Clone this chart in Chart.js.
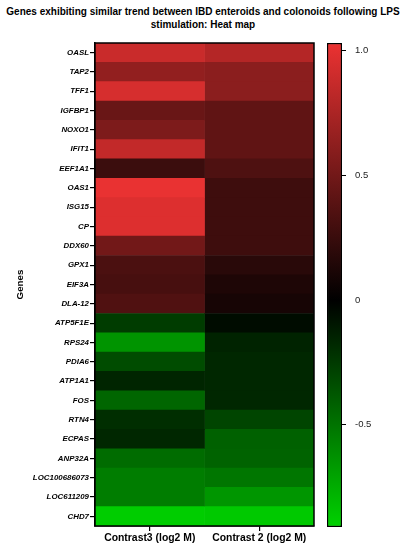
<!DOCTYPE html>
<html><head><meta charset="utf-8">
<script src="https://cdn.jsdelivr.net/npm/chart.js@4.4.0/dist/chart.umd.min.js"></script>
<style>
html,body{margin:0;padding:0;background:#fff;width:406px;height:550px;overflow:hidden}
#title{position:absolute;left:0;top:5px;width:406px;text-align:center;font:bold 10px "Liberation Sans",Arial,sans-serif;line-height:13px;color:#000}
#c1{position:absolute;left:0;top:0;width:406px;height:550px}
#c2{position:absolute;left:300px;top:0;width:106px;height:550px}
</style></head><body>
<div id="title">Genes exhibiting similar trend between IBD enteroids and colonoids following LPS<br>stimulation: Heat map</div>
<canvas id="c1" width="406" height="550"></canvas>
<canvas id="c2" width="106" height="550"></canvas>
<script>
const genes = ['OASL','TAP2','TFF1','IGFBP1','NOXO1','IFIT1','EEF1A1','OAS1','ISG15','CP','DDX60','GPX1','EIF3A','DLA-12','ATP5F1E','RPS24','PDIA6','ATP1A1','FOS','RTN4','ECPAS','ANP32A','LOC100686073','LOC611209','CHD7'];
const columns = ['Contrast3 (log2 M)','Contrast 2 (log2 M)'];
const contrast3 = [0.88,0.64,0.94,0.46,0.55,0.85,0.26,1.02,0.97,0.97,0.50,0.33,0.31,0.35,-0.26,-0.64,-0.33,-0.16,-0.44,-0.2,-0.17,-0.47,-0.54,-0.54,-0.89];
const contrast2 = [0.79,0.61,0.61,0.42,0.42,0.42,0.34,0.27,0.27,0.27,0.27,0.18,0.13,0.10,-0.05,-0.15,-0.17,-0.17,-0.17,-0.30,-0.42,-0.43,-0.51,-0.65,-0.87];
const colorTicks = [1.0, 0.5, 0, -0.5];
const scaleMax = 1.03, scaleMin = -0.91;

const FAMILY = '"Liberation Sans", Arial, sans-serif';
Chart.defaults.font.family = FAMILY;

function heatColor(v){
  if (v >= 0){ const t = Math.min(v/scaleMax,1); return `rgb(${Math.round(235*t)},${Math.round(50*t)},${Math.round(50*t)})`; }
  const t = Math.min(-v/(-scaleMin),1); return `rgb(0,${Math.round(210*t)},0)`;
}

const frame = {
  id:'frame',
  afterDraw(chart){
    const {ctx, chartArea:a} = chart;
    ctx.save(); ctx.strokeStyle='#000'; ctx.lineWidth=1.5;
    ctx.strokeRect(a.left, a.top, a.right-a.left, a.bottom-a.top);
    ctx.restore();
  }
};

new Chart(document.getElementById('c1'), {
  type:'bar',
  data:{
    labels: genes,
    datasets: [contrast3, contrast2].map((vals,i)=>({
      label: columns[i],
      data: vals.map(()=>1),
      backgroundColor: vals.map(heatColor),
      borderWidth: 0,
      barPercentage: 1,
      categoryPercentage: 1
    }))
  },
  options:{
    indexAxis:'y', responsive:false, animation:false, events:[],
    layout:{padding:{left:0, top:43, right:92, bottom:0}},
    plugins:{legend:{display:false}, tooltip:{enabled:false}, title:{display:false}},
    scales:{
      x:{
        stacked:true, min:0, max:2,
        afterBuildTicks: s => { s.ticks = [{value:0.5},{value:1.5}]; },
        afterFit: s => { s.height = 24; },
        ticks:{callback:(v,i)=>columns[i], font:{weight:'bold', size:10.4}, color:'#000', padding:1, maxRotation:0, autoSkip:false},
        grid:{drawOnChartArea:false, drawTicks:true, tickLength:5, color:'#000', lineWidth:1.2},
        border:{display:true, color:'#000', width:1.5}
      },
      y:{
        stacked:true,
        afterFit: s => { s.width = 95; },
        ticks:{font:{weight:'bold', style:'italic', size:7.9}, color:'#000', padding:1, autoSkip:false},
        grid:{offset:false, drawOnChartArea:false, drawTicks:true, tickLength:5, color:'#000', lineWidth:1.2},
        border:{display:true, color:'#000', width:1.5},
        title:{display:true, text:'Genes', color:'#000', font:{weight:'bold', size:9.8}, padding:{top:14, bottom:0}}
      }
    }
  },
  plugins:[frame]
});

function barGradient(chart){
  const {ctx, chartArea, scales} = chart;
  if (!chartArea) return '#000';
  const y = scales.y;
  const top = y.getPixelForValue(scaleMax), bot = y.getPixelForValue(scaleMin), zero = y.getPixelForValue(0);
  const g = ctx.createLinearGradient(0, top, 0, bot);
  g.addColorStop(0, heatColor(scaleMax));
  g.addColorStop((zero-top)/(bot-top), 'rgb(0,0,0)');
  g.addColorStop(1, heatColor(scaleMin));
  return g;
}

new Chart(document.getElementById('c2'), {
  type:'bar',
  data:{labels:[''], datasets:[{data:[[scaleMin, scaleMax]], backgroundColor: c => barGradient(c.chart), borderColor:'#000', borderWidth:1.5, borderSkipped:false, barPercentage:1, categoryPercentage:1}]},
  options:{
    responsive:false, animation:false, events:[],
    layout:{padding:{left:27, top:43, bottom:23, right:0}},
    plugins:{legend:{display:false}, tooltip:{enabled:false}},
    scales:{
      x:{display:false},
      y:{
        position:'right', min:scaleMin, max:scaleMax,
        afterBuildTicks: s => { s.ticks = colorTicks.map(v=>({value:v})); },
        afterFit: s => { s.width = 64; },
        ticks:{callback: v => v === 0 ? '0' : v.toFixed(1), font:{size:9.5}, color:'#222', padding:9},
        grid:{drawOnChartArea:false, drawTicks:true, tickLength:4, color: c => (c.tick && c.tick.value === 0) ? 'rgba(0,0,0,0)' : '#000'},
        border:{display:false}
      }
    }
  }
});
</script>
</body></html>
